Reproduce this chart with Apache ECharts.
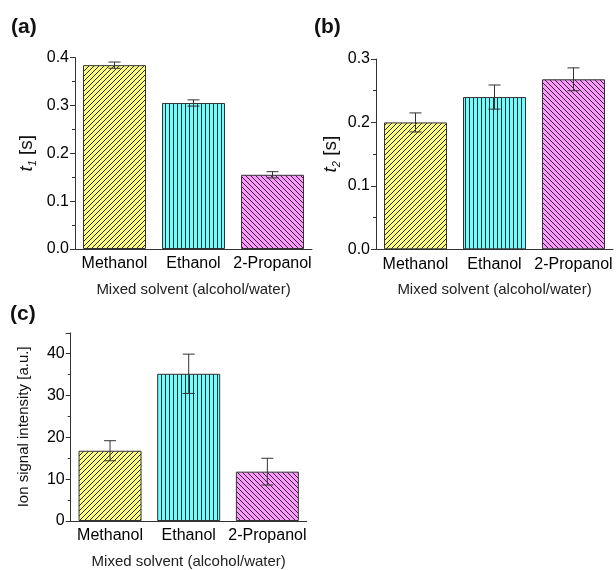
<!DOCTYPE html>
<html>
<head>
<meta charset="utf-8">
<script src="https://cdn.jsdelivr.net/npm/echarts@6/dist/echarts.min.js"></script>
<style>
  html, body { margin: 0; padding: 0; background: #fff; }
  #chart { width: 616px; height: 570px; }
</style>
</head>
<body>
<div id="chart"></div>
<script>
const categories = ['Methanol', 'Ethanol', '2-Propanol'];
const t1Values = [0.384, 0.305, 0.155];
const t1Errors = [0.0065, 0.0065, 0.0065];
const t2Values = [0.200, 0.240, 0.268];
const t2Errors = [0.015, 0.019, 0.018];
const ionValues = [16.8, 35.2, 11.8];
const ionErrors = [2.4, 4.7, 3.2];
const panelLabels = ['(a)', '(b)', '(c)'];
const xName = 'Mixed solvent (alcohol/water)';

const FONT = 'Liberation Sans, Arial, sans-serif';
const AXIS_COLOR = '#333';

// hatch fills: yellow "/", cyan "|", magenta "\"
function hatch(bg, kind) {
  const size = kind === 'v' ? 4 : 5;
  const c = document.createElement('canvas');
  c.width = size;
  c.height = size;
  const ctx = c.getContext('2d');
  ctx.fillStyle = bg;
  ctx.fillRect(0, 0, size, size);
  ctx.strokeStyle = '#2a2a2a';
  ctx.lineWidth = 1;
  ctx.beginPath();
  if (kind === 'v') {
    ctx.moveTo(1.5, 0);
    ctx.lineTo(1.5, size);
  } else {
    for (let k = -1; k <= 1; k++) {
      if (kind === '/') {
        ctx.moveTo(k * size, size);
        ctx.lineTo(k * size + size, 0);
      } else {
        ctx.moveTo(k * size, 0);
        ctx.lineTo(k * size + size, size);
      }
    }
  }
  ctx.stroke();
  return { image: c, repeat: 'repeat' };
}
const fills = [hatch('#ffff80', '/'), hatch('#70ffff', 'v'), hatch('#ff99ff', '\\')];

const grids = [
  { left: 75, top: 57.5, width: 237, height: 191.5 },
  { left: 376, top: 59, width: 237, height: 190.3 },
  { left: 70.7, top: 332.8, width: 236, height: 190.5 },
];

const yAxes = [
  { max: 0.4, interval: 0.1, fmt: (v) => v.toFixed(1), name: '{i|t}{s|1}{n| [s]}', gap: 37 },
  { max: 0.3, interval: 0.1, fmt: (v) => v.toFixed(1), name: '{i|t}{s|2}{n| [s]}', gap: 34 },
  { max: 45, interval: 10, fmt: (v) => (v > 40 ? '' : String(v)), name: 'Ion signal intensity [a.u.]', gap: 39 },
];

const datasets = [
  [t1Values, t1Errors],
  [t2Values, t2Errors],
  [ionValues, ionErrors],
];

const labelStyle = { fontFamily: FONT, fontSize: 16, color: '#000' };

const xAxis = [];
const yAxis = [];
const series = [];

grids.forEach((g, i) => {
  // main category axis, ticks at bar centres
  xAxis.push({
    type: 'category',
    gridIndex: i,
    data: categories,
    name: xName,
    nameLocation: 'middle',
    nameGap: 33,
    nameTextStyle: { fontFamily: FONT, fontSize: 15, color: '#222' },
    axisLine: { lineStyle: { color: AXIS_COLOR, width: 1 } },
    axisTick: { alignWithLabel: true, length: 5, lineStyle: { color: AXIS_COLOR } },
    axisLabel: Object.assign({ margin: 7, interval: 0 }, labelStyle),
    splitLine: { show: false },
  });
  // small ticks between categories
  xAxis.push({
    type: 'category',
    gridIndex: i,
    data: categories,
    position: 'bottom',
    axisLine: { show: false },
    axisTick: { alignWithLabel: false, length: 3, interval: 0, lineStyle: { color: AXIS_COLOR } },
    axisLabel: { show: false },
    splitLine: { show: false },
  });
  const ya = yAxes[i];
  yAxis.push({
    type: 'value',
    gridIndex: i,
    min: 0,
    max: ya.max,
    interval: ya.interval,
    name: ya.name,
    nameLocation: 'middle',
    nameGap: ya.gap,
    nameTextStyle: {
      fontFamily: FONT,
      fontSize: 15,
      color: '#111',
      rich: {
        i: { fontFamily: FONT, fontSize: 19, fontStyle: 'italic', color: '#111', lineHeight: 22 },
        n: { fontFamily: FONT, fontSize: 19, color: '#111', lineHeight: 22 },
        s: {
          fontFamily: FONT, fontSize: 11, fontStyle: 'italic', color: '#111',
          lineHeight: 22, verticalAlign: 'bottom', padding: [8, 0, 0, 0],
        },
      },
    },
    axisLine: { show: true, lineStyle: { color: AXIS_COLOR, width: 1 } },
    axisTick: { show: true, length: 5, lineStyle: { color: AXIS_COLOR } },
    minorTick: { show: true, splitNumber: 2, length: 3, lineStyle: { color: AXIS_COLOR } },
    axisLabel: Object.assign({ margin: 6, formatter: ya.fmt }, labelStyle),
    splitLine: { show: false },
    minorSplitLine: { show: false },
  });

  const [vals, errs] = datasets[i];
  series.push({
    type: 'bar',
    xAxisIndex: i * 2,
    yAxisIndex: i,
    barWidth: 63,
    data: vals.map((v, k) => ({
      value: v,
      itemStyle: { color: fills[k], borderColor: '#333', borderWidth: 1 },
    })),
    silent: true,
    z: 2,
  });
  series.push({
    type: 'custom',
    xAxisIndex: i * 2,
    yAxisIndex: i,
    silent: true,
    z: 5,
    data: vals.map((v, k) => [k, v, errs[k]]),
    renderItem(params, api) {
      const x = api.value(0);
      const hi = api.coord([x, api.value(1) + api.value(2)]);
      const lo = api.coord([x, api.value(1) - api.value(2)]);
      const w = 6;
      const style = { stroke: '#333', lineWidth: 1, fill: null };
      return {
        type: 'group',
        children: [
          { type: 'line', shape: { x1: hi[0], y1: hi[1], x2: lo[0], y2: lo[1] }, style },
          { type: 'line', shape: { x1: hi[0] - w, y1: hi[1], x2: hi[0] + w, y2: hi[1] }, style },
          { type: 'line', shape: { x1: lo[0] - w, y1: lo[1], x2: lo[0] + w, y2: lo[1] }, style },
        ],
      };
    },
  });
});

const titlePos = [[11, 17], [314, 17], [10, 304]];

const option = {
  animation: false,
  backgroundColor: '#fff',
  title: panelLabels.map((t, i) => ({
    text: t,
    left: titlePos[i][0],
    top: titlePos[i][1],
    padding: 0,
    textStyle: { fontFamily: FONT, fontSize: 21, fontWeight: 'bold', color: '#111' },
  })),
  grid: grids,
  xAxis,
  yAxis,
  series,
};

const chart = echarts.init(document.getElementById('chart'), null, { renderer: 'canvas' });
chart.setOption(option);
</script>
</body>
</html>
